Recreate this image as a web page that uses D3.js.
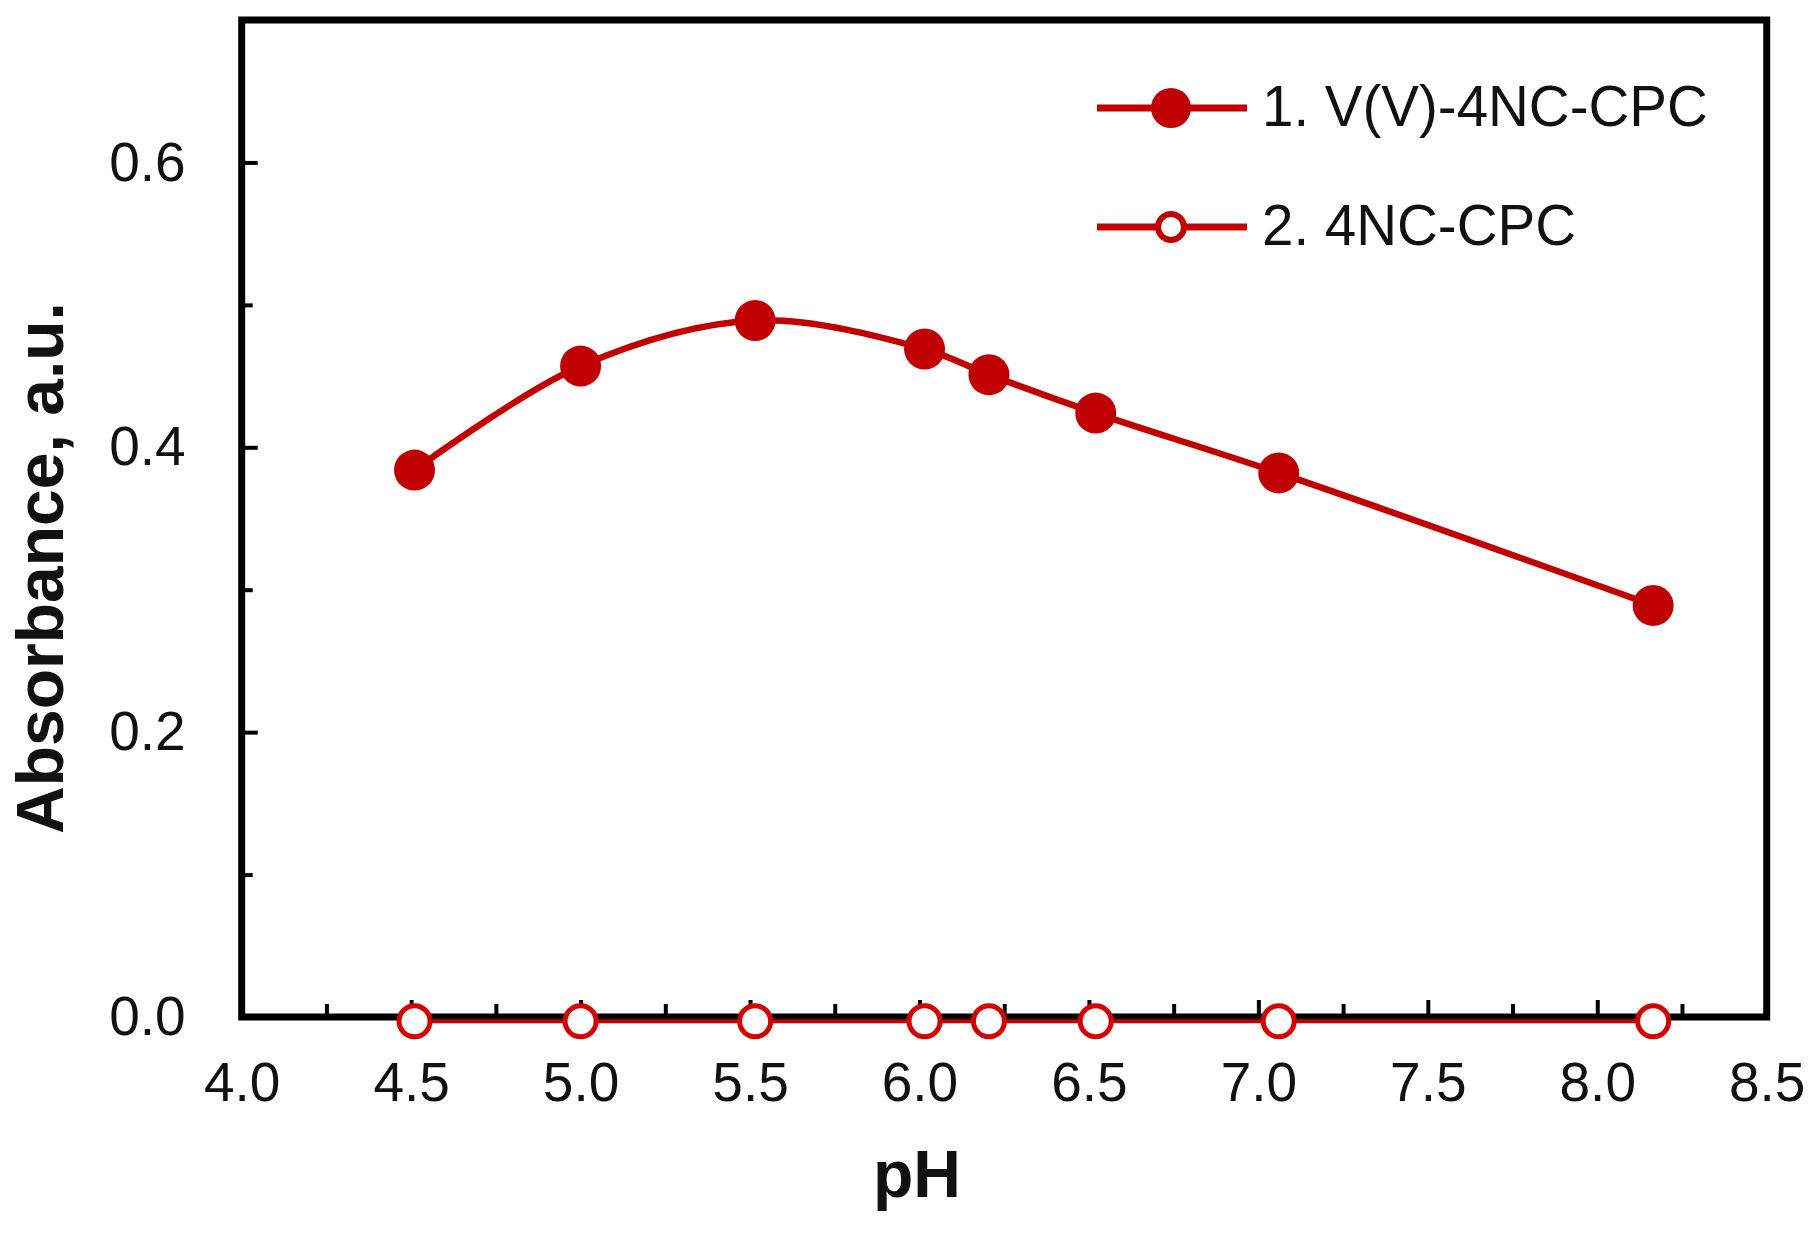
<!DOCTYPE html>
<html>
<head>
<meta charset="utf-8">
<script src="https://cdn.jsdelivr.net/npm/d3@7"></script>
<style>
  body { margin: 0; background: #fff; }
  svg { display: block; }
  text { font-family: "Liberation Sans", Arial, sans-serif; fill: #111; }
</style>
</head>
<body>
<svg id="svg" width="1820" height="1236"></svg>
<script>
// pH values
var phValues = [4.51, 5.0, 5.515, 6.015, 6.205, 6.52, 7.06, 8.165];
// series 1: V(V)-4NC-CPC complex
var complexAbs = [0.384, 0.457, 0.489, 0.469, 0.451, 0.424, 0.382, 0.289];
// series 2: reagent alone, sits on the baseline
var reagentAbs = [-0.003, -0.003, -0.003, -0.003, -0.003, -0.003, -0.003, -0.003];

var xMajor = [4.0, 4.5, 5.0, 5.5, 6.0, 6.5, 7.0, 7.5, 8.0, 8.5];
var xMinor = [4.25, 4.75, 5.25, 5.75, 6.25, 6.75, 7.25, 7.75, 8.25];
var yMajor = [0.0, 0.2, 0.4, 0.6];
var yMinor = [0.1, 0.3, 0.5];

var legendLabels = ['1. V(V)-4NC-CPC', '2. 4NC-CPC'];

var red = '#c00000';

var svg = d3.select('svg');

var x = d3.scaleLinear().domain([4.0, 8.5]).range([241.7, 1766.7]);
var y = d3.scaleLinear().domain([0, 0.7]).range([1017, 20]);

var series1 = phValues.map(function (p, i) { return {x: p, y: complexAbs[i]}; });
var series2 = phValues.map(function (p, i) { return {x: p, y: reagentAbs[i]}; });

// minor ticks (no labels)
svg.append('g')
    .attr('transform', 'translate(0,' + y(0) + ')')
    .call(d3.axisBottom(x).tickValues(xMinor).tickSizeInner(-13).tickSizeOuter(0).tickFormat(''))
    .call(function (g) { g.select('.domain').remove(); })
    .selectAll('line').attr('stroke', '#000').attr('stroke-width', 4);

svg.append('g')
    .attr('transform', 'translate(' + x(4.0) + ',0)')
    .call(d3.axisLeft(y).tickValues(yMinor).tickSizeInner(-11).tickSizeOuter(0).tickFormat(''))
    .call(function (g) { g.select('.domain').remove(); })
    .selectAll('line').attr('stroke', '#000').attr('stroke-width', 4);

// major ticks with labels
var xAxis = svg.append('g')
    .attr('transform', 'translate(0,' + y(0) + ')')
    .call(d3.axisBottom(x).tickValues(xMajor).tickSizeInner(-17).tickSizeOuter(0)
        .tickPadding(45).tickFormat(d3.format('.1f')));
xAxis.select('.domain').remove();
xAxis.selectAll('line').attr('stroke', '#000').attr('stroke-width', 4);
xAxis.selectAll('text').attr('font-size', 55).attr('font-family', null).attr('fill', '#111');

var yAxis = svg.append('g')
    .attr('transform', 'translate(' + x(4.0) + ',0)')
    .call(d3.axisLeft(y).tickValues(yMajor).tickSizeInner(-16).tickSizeOuter(0)
        .tickPadding(56).tickFormat(d3.format('.1f')));
yAxis.select('.domain').remove();
yAxis.selectAll('line').attr('stroke', '#000').attr('stroke-width', 4);
yAxis.selectAll('text').attr('font-size', 55).attr('font-family', null).attr('fill', '#111');

// frame
svg.append('rect')
    .attr('x', x(4.0))
    .attr('y', y(0.7))
    .attr('width', x(8.5) - x(4.0))
    .attr('height', y(0) - y(0.7))
    .attr('fill', 'none')
    .attr('stroke', '#000')
    .attr('stroke-width', 7);

// lines
var smooth = d3.line()
    .x(function (d) { return x(d.x); })
    .y(function (d) { return y(d.y); })
    .curve(d3.curveCatmullRom.alpha(0.5));

svg.append('path')
    .datum(series1)
    .attr('d', smooth)
    .attr('fill', 'none')
    .attr('stroke', red)
    .attr('stroke-width', 6.5);

svg.append('path')
    .datum(series2)
    .attr('d', smooth)
    .attr('fill', 'none')
    .attr('stroke', red)
    .attr('stroke-width', 4);

// markers
svg.selectAll('circle.filled')
    .data(series1)
    .enter()
    .append('circle')
    .attr('class', 'filled')
    .attr('cx', function (d) { return x(d.x); })
    .attr('cy', function (d) { return y(d.y); })
    .attr('r', 20.5)
    .attr('fill', red);

svg.selectAll('circle.open')
    .data(series2)
    .enter()
    .append('circle')
    .attr('class', 'open')
    .attr('cx', function (d) { return x(d.x); })
    .attr('cy', function (d) { return y(d.y); })
    .attr('r', 15.5)
    .attr('fill', '#fff')
    .attr('stroke', '#d40000')
    .attr('stroke-width', 5);

// axis titles
svg.append('text')
    .attr('x', 917)
    .attr('y', 1197)
    .attr('text-anchor', 'middle')
    .attr('font-size', 66)
    .attr('font-weight', 'bold')
    .text('pH');

svg.append('text')
    .attr('transform', 'translate(63,568) rotate(-90)')
    .attr('text-anchor', 'middle')
    .attr('font-size', 66)
    .attr('font-weight', 'bold')
    .text('Absorbance, a.u.');

// legend
var legendY = [108, 227];
var legend = svg.selectAll('g.legend')
    .data(legendLabels)
    .enter()
    .append('g')
    .attr('class', 'legend')
    .attr('transform', function (d, i) { return 'translate(0,' + legendY[i] + ')'; });

legend.append('line')
    .attr('x1', 1097).attr('x2', 1247)
    .attr('y1', 0).attr('y2', 0)
    .attr('stroke', red)
    .attr('stroke-width', 7);

legend.append('circle')
    .attr('cx', 1171)
    .attr('cy', 0)
    .attr('r', function (d, i) { return i === 0 ? 20 : 13; })
    .attr('fill', function (d, i) { return i === 0 ? red : '#fff'; })
    .attr('stroke', red)
    .attr('stroke-width', function (d, i) { return i === 0 ? 0 : 6; });

legend.append('text')
    .attr('x', 1262)
    .attr('y', 18)
    .attr('font-size', 56.5)
    .text(function (d) { return d; });
</script>
</body>
</html>
